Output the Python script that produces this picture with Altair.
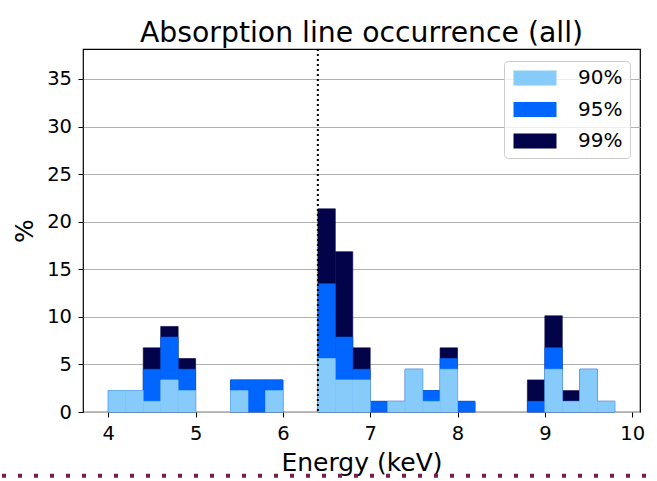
import altair as alt
import pandas as pd

# Bin edges (keV)
bin_start = [4.0, 4.2, 4.4, 4.6, 4.8, 5.0, 5.2, 5.4, 5.6, 5.8, 6.0, 6.2, 6.4, 6.6, 6.8,
             7.0, 7.2, 7.4, 7.6, 7.8, 8.0, 8.2, 8.4, 8.6, 8.8, 9.0, 9.2, 9.4, 9.6]
bin_end = [4.2, 4.4, 4.6, 4.8, 5.0, 5.2, 5.4, 5.6, 5.8, 6.0, 6.2, 6.4, 6.6, 6.8, 7.0,
           7.2, 7.4, 7.6, 7.8, 8.0, 8.2, 8.4, 8.6, 8.8, 9.0, 9.2, 9.4, 9.6, 9.8]

# Occurrence (%) per confidence level
p90 = [2.25, 2.25, 1.12, 3.37, 2.25, 0, 0, 2.25, 0, 2.25, 0, 0, 5.62, 3.37, 3.37,
       0, 1.12, 4.49, 1.12, 4.49, 0, 0, 0, 0, 0, 4.49, 1.12, 4.49, 1.12]
p95 = [2.25, 2.25, 4.49, 7.87, 4.49, 0, 0, 3.37, 3.37, 3.37, 0, 0, 13.48, 7.87, 4.49,
       1.12, 1.12, 4.49, 2.25, 5.62, 1.12, 0, 0, 0, 1.12, 6.74, 1.12, 4.49, 1.12]
p99 = [2.25, 2.25, 6.74, 8.99, 5.62, 0, 0, 3.37, 3.37, 3.37, 0, 0, 21.35, 16.85, 6.74,
       1.12, 1.12, 4.49, 2.25, 6.74, 1.12, 0, 0, 0, 3.37, 10.11, 2.25, 4.49, 1.12]

levels = ["90%", "95%", "99%"]
colors = ["#87cbfa", "#0066ff", "#03034a"]
line_energy = [6.4]

rows = []
# draw order: 99% at back, 90% at front
for lvl, vals in (("99%", p99), ("95%", p95), ("90%", p90)):
    for s, e, v in zip(bin_start, bin_end, vals):
        if v > 0:
            rows.append({"start": s, "end": e, "pct": v, "level": lvl})
df = pd.DataFrame(rows)

xscale = alt.Scale(domain=[3.71, 10.09], nice=False, zero=False)
yscale = alt.Scale(domain=[0, 38.15], nice=False)
cscale = alt.Scale(domain=levels, range=colors)

bars = alt.Chart(df).mark_rect(strokeWidth=0.6).encode(
    x=alt.X("start:Q", scale=xscale,
            axis=alt.Axis(values=[4, 5, 6, 7, 8, 9, 10], format="d", title="Energy (keV)",
                          grid=False, domain=False, tickSize=5, tickColor="black",
                          labelPadding=7, labelFontSize=19.5, labelColor="black",
                          labelFlush=False, titleFontSize=25, titleFontWeight="normal",
                          titleColor="black", titleBaseline="alphabetic", titleY=58,
                          titleX=278.5, titleAlign="center")),
    x2="end:Q",
    y=alt.Y("pct:Q", scale=yscale,
            axis=alt.Axis(values=[0, 5, 10, 15, 20, 25, 30, 35], title="%",
                          grid=True, gridColor="#b0b0b0", gridWidth=1, domain=False,
                          tickSize=5, tickColor="black", labelPadding=6.5,
                          labelFontSize=19.5, labelColor="black",
                          titleFontSize=25, titleFontWeight="normal", titleColor="black",
                          titleAngle=-90, titleBaseline="alphabetic", titleX=-51,
                          titleY=181.5, titleAlign="center")),
    y2=alt.Y2(datum=0),
    stroke=alt.Stroke("level:N", scale=cscale, legend=None),
    color=alt.Color("level:N", scale=cscale,
                    legend=alt.Legend(title=None, orient="none", legendX=421, legendY=12,
                                      symbolType="M-1,-1H4.733V1H-1Z", symbolSize=225,
                                      symbolStrokeWidth=0, symbolOpacity=1,
                                      labelFontSize=20, labelColor="black", labelOffset=47,
                                      padding=7, rowPadding=11.5,
                                      fillColor="rgba(255,255,255,0.8)",
                                      strokeColor="#cccccc", cornerRadius=4)),
)

vline = alt.Chart(pd.DataFrame({"e": line_energy})).mark_rule(
    color="black", strokeDash=[2, 3], strokeWidth=2
).encode(x=alt.X("e:Q", scale=xscale))

border = alt.Chart(pd.DataFrame({"a": [0]})).mark_rule(
    color="#7a1e50", strokeDash=[4, 12], strokeWidth=4, strokeCap="butt"
).encode(x=alt.value(-81), x2=alt.value(574), y=alt.value(426.7))

chart = alt.layer(bars, vline, border).properties(
    width=557,
    height=363,
    title=alt.TitleParams("Absorption line occurrence (all)", fontSize=28.3,
                          fontWeight="normal", color="black", anchor="middle",
                          frame="group", baseline="alphabetic", offset=-22.3),
    autosize=alt.AutoSizeParams(type="none"),
    padding={"left": 83, "top": 49, "right": 17, "bottom": 69},
).configure(font="DejaVu Sans").configure_view(stroke="black", strokeWidth=1.2)

chart.save("out.html", embed_options={"renderer": "svg", "actions": False})
